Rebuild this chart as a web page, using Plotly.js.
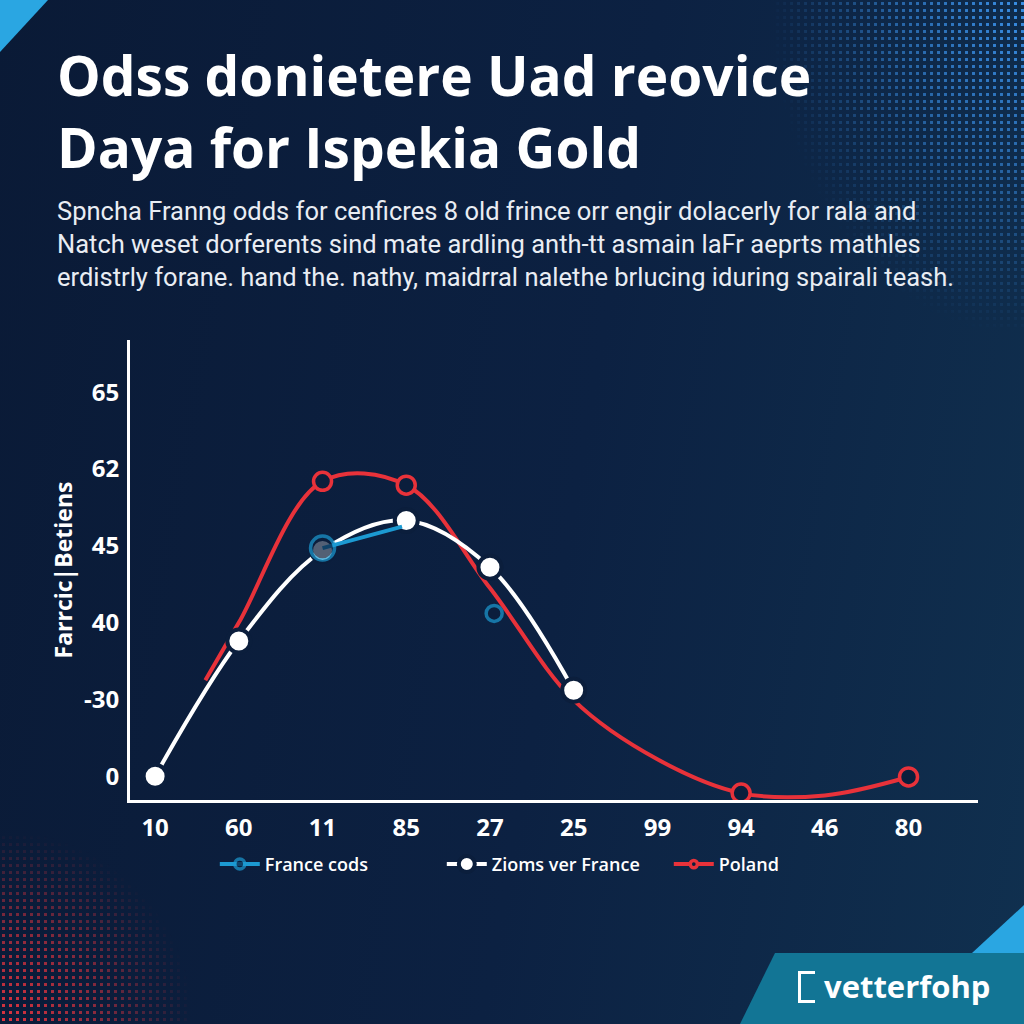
<!DOCTYPE html>
<html>
<head>
<meta charset="utf-8">
<script src="https://cdn.plot.ly/plotly-3.0.1.min.js"></script>
<style>
  html, body { margin: 0; padding: 0; }
  #wrap {
    position: relative; width: 1024px; height: 1024px; overflow: hidden;
    background: linear-gradient(100deg, #0a1a36 0%, #0c2142 55%, #10304f 100%);
  }
  /* halftone corners */
  .dots-tr {
    position: absolute; right: 0; top: 0; width: 250px; height: 330px;
    background-image: radial-gradient(circle, #3a8fe6 1.4px, transparent 1.9px);
    background-size: 7px 7px;
    -webkit-mask-image: radial-gradient(ellipse at 100% 0%, #000 0%, rgba(0,0,0,.6) 35%, transparent 72%);
    mask-image: radial-gradient(ellipse at 100% 0%, #000 0%, rgba(0,0,0,.6) 35%, transparent 72%);
  }
  .dots-bl {
    position: absolute; left: 0; bottom: 0; width: 190px; height: 190px;
    background-image: radial-gradient(circle, #e2343f 1.5px, transparent 2px);
    background-size: 7px 7px;
    -webkit-mask-image: radial-gradient(ellipse at 0% 100%, #000 0%, rgba(0,0,0,.6) 35%, transparent 72%);
    mask-image: radial-gradient(ellipse at 0% 100%, #000 0%, rgba(0,0,0,.6) 35%, transparent 72%);
  }
  .tri-tl { position: absolute; left: 0; top: 0; width: 48px; height: 52px; background: #2aa6e2;
    clip-path: polygon(0 0, 100% 0, 0 100%); }
  .band { position: absolute; left: 740px; top: 953px; width: 284px; height: 71px; background: #127595;
    clip-path: polygon(35px 0, 100% 0, 100% 100%, 0 100%); }
  .tri-br { position: absolute; left: 972px; top: 905px; width: 52px; height: 48px; background: #2aa6e2;
    clip-path: polygon(0 100%, 100% 0, 100% 100%); }
  .logo-box { position: absolute; left: 798px; top: 971px; width: 14px; height: 26px;
    border: 3px solid #fff; border-right: none; }
  #chart { position: absolute; left: 0; top: 0; width: 1024px; height: 1024px; }
</style>
</head>
<body>
<div id="wrap">
  <div class="dots-tr"></div>
  <div class="dots-bl"></div>
  <div class="tri-tl"></div>
  <div class="band"></div>
  <div class="tri-br"></div>
  <div class="logo-box"></div>
  <div id="chart"></div>
</div>
<script>
// ── data ──
const xLabels = ['10', '60', '11', '85', '27', '25', '99', '94', '46', '80'];
const yTickText = ['0', '-30', '40', '45', '62', '65'];

// positions are slot indices on both axes (the printed tick labels are not monotonic)
const whiteX = [0, 1, 2, 3, 4, 5];
const whiteY = [0, 1.76, 2.94, 3.33, 2.72, 1.12];

const redX = [0.6, 1, 2, 3, 4, 5, 6, 7, 8, 9];
const redY = [1.25, 2.0, 3.84, 3.79, 2.45, 0.99, 0.22, -0.22, -0.25, -0.01];
const redMarkerSize = [0, 0, 18, 18, 0, 0, 0, 18, 0, 18];

const blueX = [2, 2.95, 3.5, 4.05];
const blueY = [2.97, 3.25, null, 2.12];
const blueMarkerSize = [24, 0, 0, 16];

const BG = '#0b1e3c';
const WHITE = '#ffffff';
const RED = '#e8323a';
const BLUE = '#1c9ad2';

const traces = [
    {
        x: redX, y: redY, type: 'scatter', mode: 'lines+markers', name: 'Poland',
        legendrank: 3,
        line: { color: RED, width: 4, shape: 'spline', smoothing: 1 },
        marker: { size: redMarkerSize, color: BG, opacity: 1, line: { color: RED, width: 3.5 } },
    },
    {
        x: whiteX, y: whiteY, type: 'scatter', mode: 'lines+markers', name: 'Zioms ver France',
        legendrank: 2,
        line: { color: WHITE, width: 4, shape: 'spline', smoothing: 1 },
        marker: { size: 23, color: WHITE, line: { color: BG, width: 4 } },
    },
    {
        x: blueX, y: blueY, type: 'scatter', mode: 'lines+markers', name: 'France cods',
        legendrank: 1, connectgaps: false,
        line: { color: BLUE, width: 4, shape: 'spline' },
        marker: { size: blueMarkerSize, color: BG, line: { color: BLUE, width: 3.5 } },
    },
];

const layout = {
    width: 1024, height: 1024,
    margin: { l: 130, r: 46, t: 340, b: 224 },
    paper_bgcolor: 'rgba(0,0,0,0)',
    plot_bgcolor: 'rgba(0,0,0,0)',
    font: { family: 'Open Sans, Liberation Sans, sans-serif', color: WHITE },
    xaxis: {
        range: [-0.3, 9.83],
        tickvals: xLabels.map((_, i) => i), ticktext: xLabels,
        tickfont: { size: 24, weight: 700, color: WHITE },
        ticks: '', ticklabelstandoff: 4,
        showgrid: false, zeroline: false,
        showline: true, linecolor: WHITE, linewidth: 3,
    },
    yaxis: {
        range: [-0.31, 5.68],
        tickvals: yTickText.map((_, i) => i), ticktext: yTickText,
        tickfont: { size: 24, weight: 700, color: WHITE },
        ticks: '', ticklabelstandoff: 3,
        showgrid: false, zeroline: false,
        showline: true, linecolor: WHITE, linewidth: 3,
        title: { text: 'Farrcic|Betiens', font: { size: 23, weight: 700, color: WHITE }, standoff: 5 },
    },
    legend: {
        orientation: 'h', x: 0.1, xanchor: 'left', y: -0.14, yanchor: 'middle',
        font: { size: 18, weight: 600, color: WHITE },
        bgcolor: 'rgba(0,0,0,0)', itemwidth: 40, traceorder: 'normal',
        entrywidth: 172, entrywidthmode: 'pixels',
    },
    annotations: [
        {
            xref: 'paper', yref: 'paper', x: -0.088, y: 1.499, xanchor: 'left', yanchor: 'middle',
            align: 'left', showarrow: false,
            text: 'Odss donietere Uad reovice<br>Daya for Ispekia Gold',
            font: { family: 'Open Sans, sans-serif', size: 55, weight: 700, color: WHITE },
        },
        {
            xref: 'paper', yref: 'paper', x: -0.088, y: 1.318, xanchor: 'left', yanchor: 'top',
            align: 'left', showarrow: false,
            text: 'Spncha Franng odds for cenficres 8 old frince orr engir dolacerly for rala and<br>' +
                  'Natch weset dorferents sind mate ardling anth-tt asmain laFr aeprts mathles<br>' +
                  'erdistrly forane. hand the. nathy, maidrral nalethe brlucing iduring spairali teash.',
            font: { family: 'Roboto, Liberation Sans, sans-serif', size: 25.5, color: '#e9edf3' },
        },
        {
            xref: 'paper', yref: 'paper', x: 1.016, y: -0.405, xanchor: 'right', yanchor: 'middle',
            showarrow: false, text: 'vetterfohp',
            font: { family: 'Open Sans, sans-serif', size: 31, weight: 700, color: WHITE },
        },
    ],
};

Plotly.newPlot('chart', traces, layout, { displayModeBar: false, staticPlot: true });
</script>
</body>
</html>
